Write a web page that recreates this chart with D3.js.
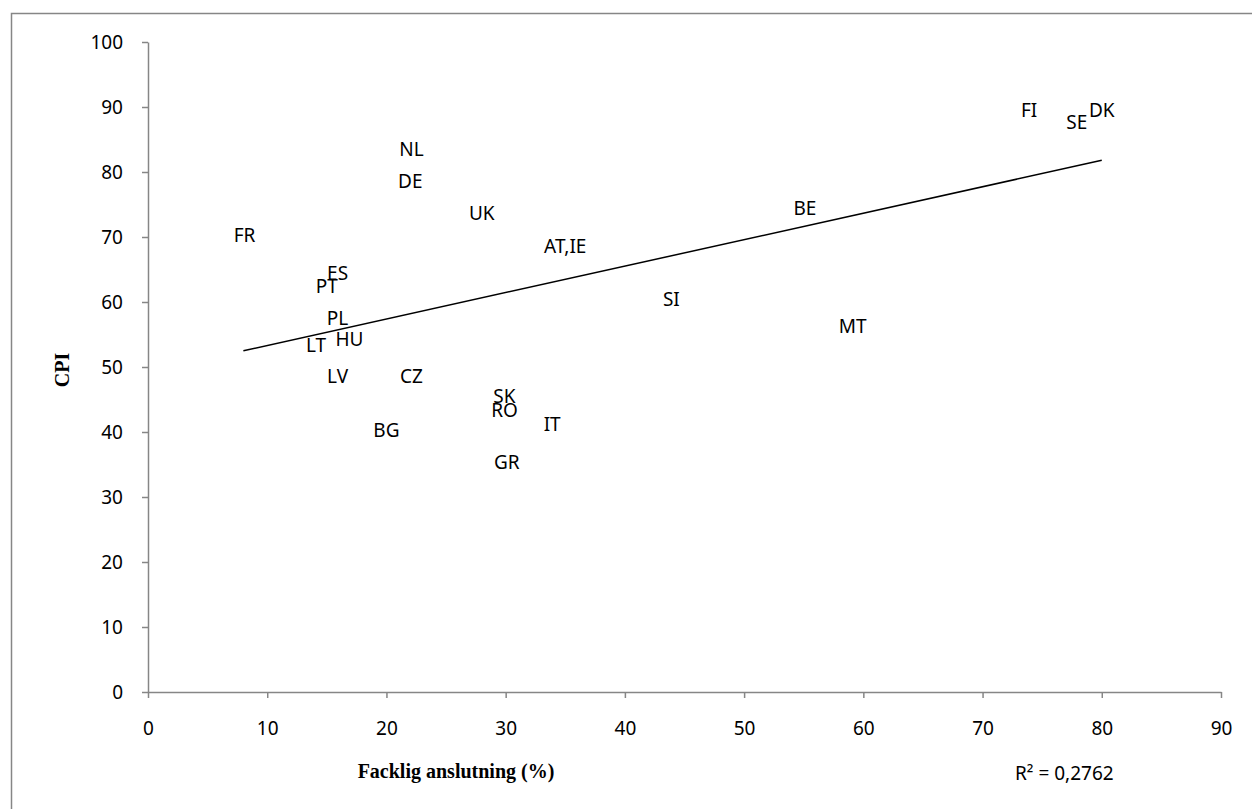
<!DOCTYPE html>
<html>
<head>
<meta charset="utf-8">
<script src="https://cdn.jsdelivr.net/npm/d3@7"></script>
<style>
  body { margin: 0; padding: 0; background: #fff; }
  svg { display: block; }
</style>
</head>
<body>
<script>
// data: country, union density (%), CPI
var countries = ["FI","SE","DK","NL","DE","UK","FR","BE","AT,IE","ES","PT","SI","PL","HU","LT","MT","LV","CZ","SK","RO","IT","BG","GR"];
var unionRate = [73.9, 77.9, 80.0, 22.1, 22.0, 28.0, 8.1, 55.1, 35.0, 15.9, 15.0, 43.9, 15.9, 16.9, 14.1, 59.1, 15.9, 22.1, 29.9, 29.9, 33.9, 20.0, 30.1];
var cpiValues = [89.5, 87.6, 89.5, 83.5, 78.6, 73.6, 70.3, 74.4, 68.5, 64.4, 62.4, 60.4, 57.5, 54.3, 53.4, 56.3, 48.5, 48.5, 45.5, 43.4, 41.2, 40.3, 35.4];
var xTicks = [0,10,20,30,40,50,60,70,80,90];
var yTicks = [0,10,20,30,40,50,60,70,80,90,100];
// linear trend line (start / end)
var trendX = [8, 80];
var trendY = [52.5, 81.8];
var r2Label = "R\u00B2 = 0,2762";

var W = 1252, H = 809;
var margin = {left: 148, right: 31, top: 42, bottom: 117};

var svg = d3.select("body").append("svg")
  .attr("width", W).attr("height", H);

// outer chart frame (runs off right/bottom edge)
svg.append("rect")
  .attr("x", 11.5).attr("y", 13.5)
  .attr("width", W).attr("height", H)
  .attr("fill", "none").attr("stroke", "#868686").attr("stroke-width", 1.5);

var x = d3.scaleLinear().domain([0, 90]).range([margin.left, W - margin.right]);
var y = d3.scaleLinear().domain([0, 100]).range([H - margin.bottom, margin.top]);

var font = "'Noto Sans', 'Open Sans', sans-serif";
var fs = "19px";

var xAxis = svg.append("g")
  .attr("transform", "translate(0," + y(0) + ")")
  .call(d3.axisBottom(x).tickValues(xTicks).tickSize(6).tickSizeOuter(0).tickPadding(24));
var yAxis = svg.append("g")
  .attr("transform", "translate(" + x(0) + ",0)")
  .call(d3.axisLeft(y).tickValues(yTicks).tickSize(6).tickSizeOuter(0).tickPadding(19));

[xAxis, yAxis].forEach(function (g) {
  g.select(".domain").attr("stroke", "#868686").attr("stroke-width", 1.5);
  g.selectAll(".tick line").attr("stroke", "#868686").attr("stroke-width", 1.5);
  g.selectAll(".tick text").attr("fill", "#000")
    .style("font-family", font).style("font-size", fs);
});

svg.append("line")
  .attr("x1", x(trendX[0])).attr("y1", y(trendY[0]))
  .attr("x2", x(trendX[1])).attr("y2", y(trendY[1]))
  .attr("stroke", "#000").attr("stroke-width", 1.5);

// labels as points
svg.append("g").selectAll("text")
  .data(countries)
  .enter().append("text")
  .attr("x", function (d, i) { return x(unionRate[i]); })
  .attr("y", function (d, i) { return y(cpiValues[i]); })
  .attr("text-anchor", "middle")
  .attr("dy", "0.35em")
  .style("font-family", font).style("font-size", fs)
  .text(function (d) { return d; });

// axis titles
svg.append("text")
  .attr("x", 456).attr("y", 778)
  .attr("text-anchor", "middle")
  .style("font-family", "'Liberation Serif', 'DejaVu Serif', serif")
  .style("font-weight", "bold").style("font-size", "20px")
  .text("Facklig anslutning (%)");

svg.append("text")
  .attr("transform", "translate(69,370) rotate(-90)")
  .attr("text-anchor", "middle")
  .style("font-family", "'Liberation Serif', 'DejaVu Serif', serif")
  .style("font-weight", "bold").style("font-size", "20px")
  .text("CPI");

svg.append("text")
  .attr("x", 1015).attr("y", 780)
  .style("font-family", font).style("font-size", fs)
  .text(r2Label);
</script>
</body>
</html>
